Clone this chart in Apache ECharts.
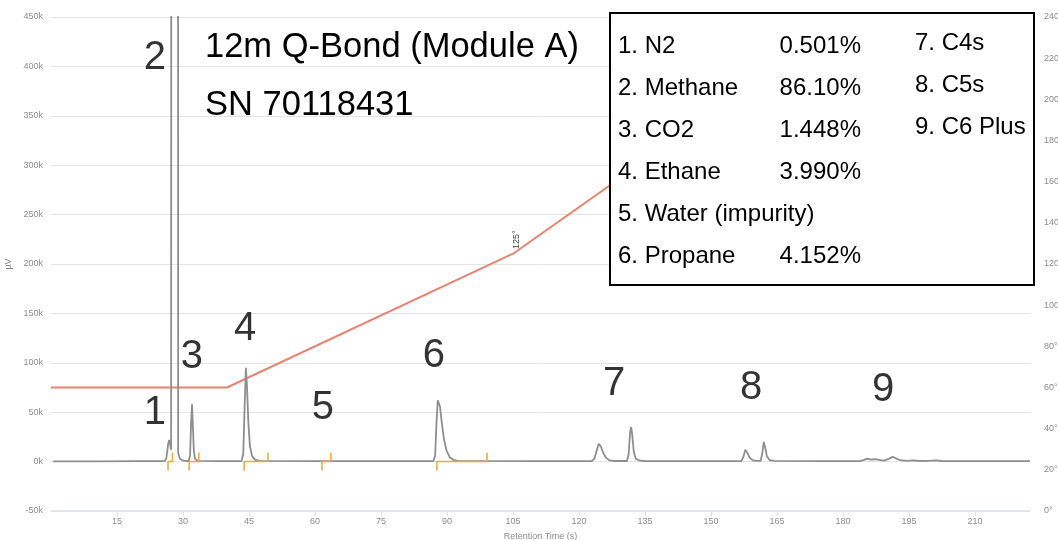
<!DOCTYPE html>
<html>
<head>
<meta charset="utf-8">
<script src="https://cdn.jsdelivr.net/npm/echarts@6/dist/echarts.min.js"></script>
<style>
  html, body { margin: 0; padding: 0; background: #ffffff; }
  #chart { width: 1058px; height: 540px; }
</style>
</head>
<body>
<div id="chart"></div>
<script>
// Detector trace: [retention time (s), signal (µV)]
const tracePoints = [
  [0.5, 300], [10, 300], [20, 400], [25.8, 400],
  // N2
  [26.2, 3000], [26.6, 17000], [26.85, 22000], [27.1, 17000], [27.3, 12000],
  // Methane (far off scale)
  [27.45, 3200000], [28.1, 3450000], [28.75, 3200000],
  [28.9, 9000], [29.3, 3000], [29.9, 1200], [30.6, 700], [31.3, 600],
  // CO2
  [31.6, 6000], [31.85, 40000], [32.05, 58000], [32.25, 36000], [32.45, 12000], [32.7, 3000], [33.3, 800],
  // Ethane
  [38, 500], [43.3, 500], [43.7, 8000], [44.0, 55000], [44.3, 95000], [44.55, 75000], [44.85, 40000],
  [45.2, 16000], [45.7, 5500], [46.4, 1800], [47.5, 700],
  // Propane
  [60, 500], [75, 500], [86.9, 500], [87.3, 6000], [87.6, 38000], [87.9, 62000], [88.1, 64000],
  [88.4, 56000], [88.8, 40000], [89.3, 23000], [89.9, 11000], [90.6, 4500], [91.5, 1600], [92.6, 700],
  // C4s
  [110, 500], [122.9, 500], [123.5, 3000], [124.0, 11000], [124.5, 18000], [125.0, 15000], [125.5, 9000],
  [126.1, 4000], [126.9, 1300], [128.0, 600],
  [130.9, 600], [131.3, 8000], [131.6, 29000], [131.85, 35000], [132.1, 27000], [132.45, 10000],
  [132.9, 3000], [133.8, 900], [135, 600],
  // C5s
  [150, 500], [156.9, 600], [157.3, 4000], [157.8, 12000], [158.3, 8500], [158.8, 3800], [159.5, 1300], [160.4, 700],
  [161.3, 700], [161.7, 10000], [162.0, 20000], [162.3, 14500], [162.7, 5500], [163.3, 1600], [164.3, 700],
  // C6 plus
  [175, 500], [183.8, 500], [184.8, 1800], [185.5, 3000], [186.3, 2000], [187.3, 2400], [188.2, 1800],
  [189.3, 1000], [190.5, 3000], [191.3, 5000], [192.0, 3200], [193.0, 1400], [194.5, 700], [196.0, 1300],
  [197.5, 600], [199.5, 800], [201.0, 1300], [202.5, 600], [210, 500], [222.5, 500]
];

// Oven temperature program
const ovenTimes = [0, 40, 105, 168, 222.5];
const ovenTemps = [60, 60, 125, 220, 220];

// Integration events (peak start / end, s)
const eventStarts = [26.6, 31.4, 43.9, 61.6, 87.7];
const eventEnds   = [27.6, 33.6, 49.3, 63.6, 99.1];

// Peak numbering
const peakNumbers = ['1', '2', '3', '4', '5', '6', '7', '8', '9'];

// Component table
const componentNames = ['1. N2', '2. Methane', '3. CO2', '4. Ethane', '5. Water (impurity)', '6. Propane'];
const componentPercents = ['0.501%', '86.10%', '1.448%', '3.990%', '', '4.152%'];
const heavyNames = ['7. C4s', '8. C5s', '9. C6 Plus'];

const titleLines = ['12m Q-Bond (Module A)', 'SN 70118431'];

// ---- build ----
const FONT = "'Liberation Sans', Arial, sans-serif";
const AXIS_TXT = '#8c8c8c';

// where each peak number sits: [time, µV]
const numberAnchors = [
  [23.6, 49500], [23.6, 408500], [32.0, 105500], [44.1, 134500], [61.8, 54500],
  [87.0, 107000], [128.0, 79000], [159.1, 75000], [189.1, 72000]
];

const ovenData = ovenTimes.map((t, i) => [t, ovenTemps[i]]);

const TICK = 9000;
const eventData = [];
eventStarts.forEach((s, i) => {
  const e = eventEnds[i];
  eventData.push([s, -TICK], [s, 0], [e, 0], [e, TICK], [e, null]);
});

const labelData = peakNumbers.map((n, i) => [numberAnchors[i][0], numberAnchors[i][1], n]);

const graphics = [];
titleLines.forEach((t, i) => {
  graphics.push({
    type: 'text', left: 205, top: 30 + i * 58, z: 100,
    style: { text: t, fontSize: 34.5, fontFamily: FONT, fill: '#000' }
  });
});
graphics.push({
  type: 'rect', z: 100,
  shape: { x: 610, y: 13, width: 424, height: 272 },
  style: { fill: '#fff', stroke: '#000', lineWidth: 2 }
});
componentNames.forEach((t, i) => {
  graphics.push({
    type: 'text', z: 101, x: 618, y: 46.5 + i * 42,
    style: { text: t, fontSize: 24, fontFamily: FONT, fill: '#000', verticalAlign: 'middle' }
  });
  if (componentPercents[i]) {
    graphics.push({
      type: 'text', z: 101, x: 861, y: 46.5 + i * 42,
      style: { text: componentPercents[i], fontSize: 24, fontFamily: FONT, fill: '#000',
               align: 'right', verticalAlign: 'middle' }
    });
  }
});
heavyNames.forEach((t, i) => {
  graphics.push({
    type: 'text', z: 101, x: 915, y: 43.5 + i * 42,
    style: { text: t, fontSize: 24, fontFamily: FONT, fill: '#000', verticalAlign: 'middle' }
  });
});

const chart = echarts.init(document.getElementById('chart'), null, { renderer: 'canvas' });
chart.setOption({
  animation: false,
  textStyle: { fontFamily: FONT },
  grid: { left: 51, right: 28, top: 17, bottom: 29, outerBoundsMode: 'none' },
  xAxis: {
    type: 'value', min: 0, max: 222.5, interval: 15,
    name: 'Retention Time (s)', nameLocation: 'middle', nameGap: 21,
    nameTextStyle: { color: AXIS_TXT, fontSize: 9 },
    axisLine: { onZero: false, lineStyle: { color: '#dde3ee', width: 1.5 } },
    axisTick: { show: true, length: 5, lineStyle: { color: '#dde3ee' } },
    axisLabel: { color: AXIS_TXT, fontSize: 9, margin: 6, showMinLabel: false, showMaxLabel: false },
    splitLine: { show: false }
  },
  yAxis: [
    {
      type: 'value', min: -50000, max: 450000, interval: 50000,
      name: 'µV', nameLocation: 'middle', nameGap: 30, nameRotate: 90,
      nameTextStyle: { color: AXIS_TXT, fontSize: 9 },
      axisLine: { show: false }, axisTick: { show: false },
      axisLabel: { color: AXIS_TXT, fontSize: 9, margin: 8, formatter: v => (v / 1000) + 'k' },
      splitLine: { lineStyle: { color: '#e4e4e4', width: 1 } }
    },
    {
      type: 'value', position: 'right', min: 0, max: 240, interval: 20,
      axisLine: { show: false }, axisTick: { show: false },
      axisLabel: { color: AXIS_TXT, fontSize: 9, margin: 14, formatter: '{value}°' },
      splitLine: { show: false }
    }
  ],
  series: [
    {
      name: 'Signal', type: 'line', data: tracePoints, showSymbol: false, clip: true, z: 3,
      lineStyle: { color: '#8e8e8e', width: 1.8 }
    },
    {
      name: 'Oven', type: 'line', yAxisIndex: 1, data: ovenData, showSymbol: false, z: 2,
      lineStyle: { color: '#e8836f', width: 2 },
      markPoint: {
        symbol: 'circle', symbolSize: 0,
        data: [{ coord: [105, 125], value: '125°' }],
        label: { show: true, formatter: '{c}', rotate: 90, offset: [14, 4],
                 color: '#444', fontSize: 9, textBorderWidth: 0 }
      }
    },
    {
      name: 'Events', type: 'line', data: eventData, showSymbol: false, connectNulls: false, z: 4,
      lineStyle: { color: '#f2a733', width: 1.5 }
    },
    {
      name: 'Peaks', type: 'scatter', data: labelData, symbolSize: 0, z: 5, silent: true,
      label: { show: true, position: 'inside', formatter: p => p.data[2],
               fontSize: 40, color: '#000', fontFamily: FONT, textBorderWidth: 0 }
    }
  ],
  graphic: graphics
});
</script>
</body>
</html>
